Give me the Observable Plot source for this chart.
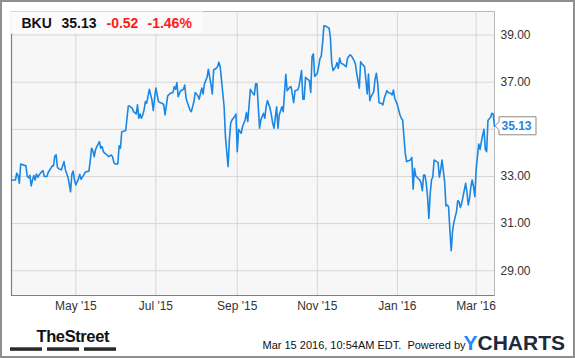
<!DOCTYPE html>
<html>
<head>
<meta charset="utf-8">
<script src="https://cdn.jsdelivr.net/npm/d3@7"></script>
<script src="https://cdn.jsdelivr.net/npm/@observablehq/plot@0.6"></script>
<style>
  html, body { margin: 0; padding: 0; background: #fff; }
  #wrap { position: relative; width: 575px; height: 358px; overflow: hidden; font-family: "Liberation Sans", Arial, sans-serif; }
  #border { position: absolute; left: 0px; top: 0px; width: 571px; height: 354px; border: 2px solid #8f8f8f; pointer-events: none; }
</style>
</head>
<body>
<div id="wrap"><div id="border"></div></div>
<script>
const ticker = "BKU";
const lastPrice = 35.13;
const change = "-0.52";
const changePct = "-1.46%";
const timestamp = "Mar 15 2016, 10:54AM EDT.  Powered by";

const dates = [
"2015-03-13","2015-03-16","2015-03-17","2015-03-18","2015-03-19","2015-03-20","2015-03-24","2015-03-25","2015-03-26","2015-03-27",
"2015-03-28","2015-03-29","2015-03-30","2015-03-31","2015-04-01","2015-04-02","2015-04-03","2015-04-04","2015-04-06","2015-04-07",
"2015-04-09","2015-04-10","2015-04-12","2015-04-13","2015-04-14","2015-04-15","2015-04-16","2015-04-17","2015-04-18","2015-04-20",
"2015-04-21","2015-04-22","2015-04-23","2015-04-25","2015-04-26","2015-04-27","2015-04-28","2015-04-29","2015-04-30","2015-05-01",
"2015-05-03","2015-05-04","2015-05-05","2015-05-06","2015-05-07","2015-05-08","2015-05-09","2015-05-11","2015-05-12","2015-05-13",
"2015-05-14","2015-05-15","2015-05-16","2015-05-17","2015-05-19","2015-05-20","2015-05-21","2015-05-22","2015-05-23","2015-05-25",
"2015-05-26","2015-05-28","2015-05-29","2015-05-30","2015-05-31","2015-06-02","2015-06-03","2015-06-04","2015-06-05","2015-06-07",
"2015-06-08","2015-06-10","2015-06-11","2015-06-13","2015-06-14","2015-06-16","2015-06-17","2015-06-18","2015-06-19","2015-06-20",
"2015-06-21","2015-06-22","2015-06-23","2015-06-24","2015-06-26","2015-06-28","2015-06-29","2015-06-30","2015-07-01","2015-07-03",
"2015-07-04","2015-07-06","2015-07-07","2015-07-08","2015-07-10","2015-07-12","2015-07-14","2015-07-15","2015-07-16","2015-07-17",
"2015-07-18","2015-07-19","2015-07-20","2015-07-22","2015-07-23","2015-07-24","2015-07-25","2015-07-27","2015-07-28","2015-07-30",
"2015-07-31","2015-08-02","2015-08-03","2015-08-04","2015-08-05","2015-08-06","2015-08-07","2015-08-09","2015-08-10","2015-08-12",
"2015-08-13","2015-08-14","2015-08-16","2015-08-17","2015-08-18","2015-08-19","2015-08-22","2015-08-23","2015-08-25","2015-08-26",
"2015-08-27","2015-08-28","2015-08-30","2015-08-31","2015-09-01","2015-09-02","2015-09-04","2015-09-05","2015-09-07","2015-09-08",
"2015-09-09","2015-09-11","2015-09-12","2015-09-14","2015-09-15","2015-09-16","2015-09-18","2015-09-19","2015-09-21","2015-09-22",
"2015-09-23","2015-09-24","2015-09-26","2015-09-27","2015-09-28","2015-09-29","2015-10-01","2015-10-02","2015-10-03","2015-10-05",
"2015-10-06","2015-10-08","2015-10-09","2015-10-11","2015-10-12","2015-10-14","2015-10-15","2015-10-17","2015-10-18","2015-10-20",
"2015-10-21","2015-10-22","2015-10-23","2015-10-24","2015-10-26","2015-10-27","2015-10-28","2015-10-29","2015-10-30","2015-11-01",
"2015-11-02","2015-11-03","2015-11-04","2015-11-05","2015-11-06","2015-11-07","2015-11-08","2015-11-10","2015-11-11","2015-11-12",
"2015-11-13","2015-11-15","2015-11-16","2015-11-17","2015-11-18","2015-11-19","2015-11-21","2015-11-23","2015-11-24","2015-11-26",
"2015-11-27","2015-11-29","2015-11-30","2015-12-01","2015-12-03","2015-12-04","2015-12-05","2015-12-07","2015-12-08","2015-12-09",
"2015-12-10","2015-12-11","2015-12-12","2015-12-14","2015-12-15","2015-12-16","2015-12-17","2015-12-18","2015-12-20","2015-12-21",
"2015-12-22","2015-12-24","2015-12-25","2015-12-27","2015-12-28","2015-12-29","2015-12-30","2016-01-01","2016-01-02","2016-01-03",
"2016-01-04","2016-01-05","2016-01-06","2016-01-07","2016-01-08","2016-01-09","2016-01-11","2016-01-12","2016-01-13","2016-01-14",
"2016-01-15","2016-01-16","2016-01-18","2016-01-19","2016-01-20","2016-01-21","2016-01-22","2016-01-23","2016-01-24","2016-01-25",
"2016-01-26","2016-01-27","2016-01-28","2016-01-29","2016-01-31","2016-02-01","2016-02-02","2016-02-03","2016-02-04","2016-02-05",
"2016-02-06","2016-02-07","2016-02-08","2016-02-09","2016-02-10","2016-02-11","2016-02-12","2016-02-13","2016-02-15","2016-02-16",
"2016-02-17","2016-02-18","2016-02-19","2016-02-20","2016-02-22","2016-02-23","2016-02-24","2016-02-25","2016-02-26","2016-02-27",
"2016-02-28","2016-02-29","2016-03-01","2016-03-02","2016-03-03","2016-03-04","2016-03-05","2016-03-06","2016-03-07","2016-03-08",
"2016-03-09","2016-03-10","2016-03-12","2016-03-13","2016-03-14","2016-03-15"
];
const closes = [
32.85,32.85,33.14,33.05,32.71,33.53,33.45,33.00,32.95,33.05,
32.60,32.85,33.04,32.85,33.10,32.97,33.05,33.14,33.25,33.00,
33.00,33.18,33.35,33.45,33.45,33.87,33.92,33.38,33.33,33.28,
33.45,33.63,33.30,32.97,32.68,32.35,33.10,33.23,32.85,32.64,
32.90,33.09,32.88,32.97,33.06,33.16,33.20,33.23,33.67,34.20,
34.10,33.84,34.13,34.27,34.48,34.20,34.27,34.06,33.99,33.91,
33.84,33.91,33.84,33.59,33.53,33.53,34.30,34.20,34.90,34.93,
34.95,35.99,35.99,35.89,35.75,35.65,36.04,35.47,35.65,35.47,
35.61,35.82,36.18,36.11,36.70,36.25,35.80,36.32,36.75,36.18,
36.14,36.10,36.04,35.61,36.42,36.53,36.56,36.81,36.70,36.98,
36.39,36.53,36.64,36.70,36.88,36.32,36.14,35.82,35.75,36.18,
36.56,36.42,36.28,36.53,36.75,36.50,36.93,37.21,37.55,36.89,
36.50,37.52,37.59,37.66,37.85,37.66,35.96,34.69,33.42,34.55,
35.26,35.40,35.54,35.65,34.05,35.00,34.83,35.11,35.40,35.71,
35.33,36.70,36.60,36.46,36.93,36.93,35.05,35.40,35.68,35.47,
35.96,36.22,35.90,35.60,35.26,35.05,35.96,35.05,35.61,35.96,
35.75,37.34,36.64,36.79,36.81,36.13,36.64,36.67,36.81,37.49,
36.28,36.28,37.21,37.15,37.07,36.56,38.09,38.20,37.24,37.38,
37.66,38.00,38.10,38.65,39.39,39.38,39.36,39.29,38.87,37.80,
37.49,37.66,37.83,37.59,38.02,37.81,37.75,37.66,38.02,38.16,
38.12,37.92,37.78,37.38,36.75,37.87,37.78,37.66,37.10,36.50,
37.35,36.22,36.39,36.60,37.13,37.38,36.96,36.13,36.10,36.04,
36.32,36.64,36.56,36.53,36.46,36.67,36.32,36.04,35.82,35.61,
35.47,35.40,34.69,33.99,33.63,33.66,33.70,33.81,32.46,33.35,
33.02,32.97,32.85,32.74,32.40,33.06,33.06,32.71,32.14,31.22,
32.26,32.85,32.99,33.70,33.63,33.60,32.97,33.28,33.70,33.25,
32.78,31.75,31.79,31.72,30.73,29.85,30.66,31.04,31.50,31.97,
31.93,31.68,31.86,32.14,32.71,32.35,31.79,32.07,32.57,32.85,
32.57,32.14,33.28,33.84,34.38,34.15,34.48,34.76,35.00,34.15,
34.05,35.37,35.51,35.68,35.65,35.13
];

const xTicks = ["2015-05-01","2015-07-01","2015-09-01","2015-11-01","2016-01-01","2016-03-01"];
const xTickLabels = ["May '15","Jul '15","Sep '15","Nov '15","Jan '16","Mar '16"];
const yTicks = [29, 31, 33, 37, 39];
const yGrid = [29, 31, 33, 35, 37, 39];
const xDomain = ["2015-03-13", "2016-03-15"];
const yDomain = [27.95, 40];

const data = dates.map((d, i) => ({date: new Date(d), close: closes[i]}));
const tickDates = xTicks.map(d => new Date(d));
const labelFor = new Map(tickDates.map((d, i) => [+d, xTickLabels[i]]));

const blue = "#1a87e4";
const font = "'Liberation Sans', Arial, sans-serif";

const plot = Plot.plot({
  width: 575,
  height: 358,
  marginTop: 11,
  marginBottom: 63,
  marginLeft: 11,
  marginRight: 81,
  style: {fontFamily: font, fontSize: "12px", color: "#333", background: "transparent", overflow: "visible"},
  x: {type: "utc", domain: xDomain.map(d => new Date(d))},
  y: {domain: yDomain},
  marks: [
    Plot.frame({fill: "#f7f7f7", stroke: "#b8b8b8"}),
    Plot.gridY(yGrid, {stroke: "#d6d6d6", strokeOpacity: 1, strokeWidth: 1}),
    Plot.gridX(tickDates, {stroke: "#d6d6d6", strokeOpacity: 1, strokeWidth: 1}),
    Plot.ruleY([yDomain[0]], {stroke: "#808080", strokeWidth: 1.2}),
    Plot.ruleX([new Date(xDomain[0])], {stroke: "#808080", strokeWidth: 1.2}),
    Plot.axisY(yTicks, {anchor: "right", tickSize: 0, tickPadding: 6, tickFormat: d => d.toFixed(2), fontSize: 12, fill: "#333", label: null}),
    Plot.axisX(tickDates, {anchor: "bottom", tickSize: 0, tickPadding: 6, tickFormat: d => labelFor.get(+d), fontSize: 12, fill: "#333", label: null}),
    Plot.lineY(data, {x: "date", y: "close", stroke: blue, strokeWidth: 1.6, strokeLinejoin: "round"})
  ]
});

document.getElementById("wrap").insertBefore(plot, document.getElementById("border"));
plot.style.position = "absolute";
plot.style.left = "0px";
plot.style.top = "0px";

const svg = d3.select(plot);
const xs = plot.scale("x"), ys = plot.scale("y");
const last = data[data.length - 1];
const lx = xs.apply(last.date), ly = ys.apply(last.close);

// header box
const hdr = svg.append("g").attr("text-anchor", "start");
hdr.append("rect").attr("x", 11).attr("y", 11.5).attr("width", 192).attr("height", 22).attr("fill", "#fbfbfb");
const ht = hdr.append("text").attr("y", 28.3).attr("font-family", font).attr("font-size", 14).attr("font-weight", "bold");
ht.append("tspan").attr("x", 21.5).attr("fill", "#111").text(ticker);
ht.append("tspan").attr("x", 61.5).attr("fill", "#111").text(lastPrice.toFixed(2));
ht.append("tspan").attr("x", 106.5).attr("fill", "#ff1a1a").text(change);
ht.append("tspan").attr("x", 147.5).attr("fill", "#ff1a1a").text(changePct);

// price label
const pl = svg.append("g").attr("text-anchor", "start");
const bx = lx + 5, bw = 37, bh = 18;
pl.append("path")
  .attr("d", `M${bx},${ly - bh/2} H${bx + bw} V${ly + bh/2} H${bx} V${ly + 4} L${lx + 1},${ly} L${bx},${ly - 4} Z`)
  .attr("fill", "#fff").attr("stroke", "#8a8a8a").attr("stroke-width", 1);
pl.append("text").attr("x", bx + 2.5).attr("y", ly + 4.5).attr("font-family", font).attr("font-size", 12)
  .attr("font-weight", "bold").attr("fill", blue).text(last.close.toFixed(2));

// footer
const ft = svg.append("g").attr("text-anchor", "start");
ft.append("text").attr("x", 36.5).attr("y", 342).attr("font-family", "'Liberation Sans Narrow', 'Arial Narrow', " + font)
  .attr("font-size", 16.5).attr("font-weight", "bold").attr("fill", "#111").attr("letter-spacing", -0.4).text("TheStreet");
[[10, 32], [47, 32], [84, 32]].forEach(([x0, w]) => {
  ft.append("rect").attr("x", x0).attr("y", 347.3).attr("width", w).attr("height", 3.5).attr("fill", "#2a2a2a");
});
ft.append("text").attr("x", 262.5).attr("y", 349).attr("font-family", font).attr("font-size", 11).attr("fill", "#111")
  .style("white-space", "pre").text(timestamp);
const yc = ft.append("text").attr("x", 463.5).attr("y", 349.5).attr("font-family", font).attr("font-size", 21).attr("font-weight", "bold");
yc.append("tspan").attr("fill", "#1a8cff").text("Y");
yc.append("tspan").attr("fill", "#1d2a3a").text("CHARTS");
</script>
</body>
</html>
